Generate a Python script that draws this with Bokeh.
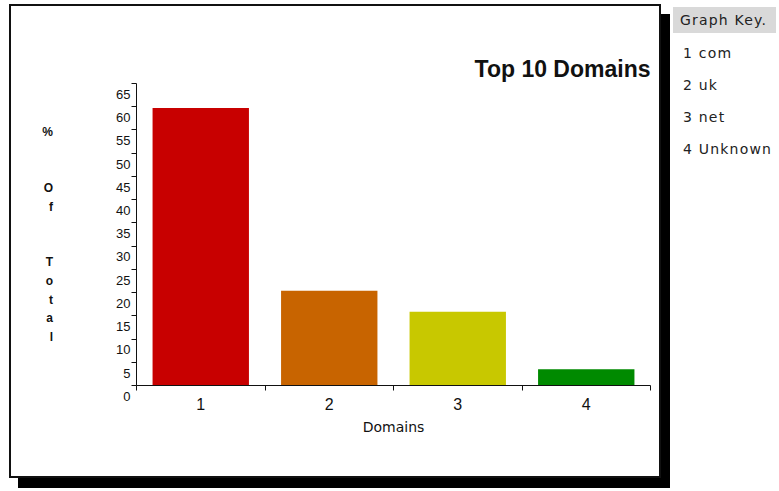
from bokeh.plotting import figure
from bokeh.layouts import row
from bokeh.models import Range1d, FixedTicker, Div, ColumnDataSource
from bokeh.embed import file_html
from bokeh.resources import INLINE

# ---- data ----
domain_idx = [1, 2, 3, 4]
domain_names = ["com", "uk", "net", "Unknown"]
pct_of_total = [59.7, 20.4, 15.9, 3.5]
bar_colors = ["#c80000", "#c86400", "#c8c800", "#008a00"]
y_ticks = [0, 5, 10, 15, 20, 25, 30, 35, 40, 45, 50, 55, 60, 65]
y_tick_labels = [str(t) for t in y_ticks]
title_text = "Top 10 Domains"
x_label = "Domains"
y_label = "% Of Total"
key_title = "Graph Key."

FONT = "Liberation Sans"
WIDE = "DejaVu Sans"

src = ColumnDataSource(dict(idx=domain_idx, pct=pct_of_total, color=bar_colors))

p = figure(width=648, height=470,
           x_range=Range1d(domain_idx[0] - 0.5, domain_idx[-1] + 0.5),
           y_range=Range1d(y_ticks[0], y_ticks[-1]),
           output_backend="svg", toolbar_location=None,
           min_border_left=125, min_border_right=9,
           min_border_top=77, min_border_bottom=91,
           background_fill_color="white", border_fill_color="white",
           title=title_text, margin=(6, 0, 0, 11))
p.styles = {"box-shadow": "0 0 0 2px #111, 9px 10px 0 2px #000"}
p.outline_line_color = None
p.xgrid.visible = False
p.ygrid.visible = False

p.title.align = "right"
p.title.text_font = FONT
p.title.text_font_size = "23px"
p.title.text_font_style = "bold"
p.title.text_color = "#111"
p.title.standoff = 3

p.vbar(x="idx", top="pct", width=0.75, fill_color="color", line_color=None, source=src)

# y axis; tick labels sit a little below their ticks (blank first line)
ya = p.yaxis[0]
ya.ticker = FixedTicker(ticks=y_ticks)
ya.major_label_overrides = {t: "\n" + s for t, s in zip(y_ticks, y_tick_labels)}
ya.major_label_text_line_height = 1.45
ya.major_label_text_font = FONT
ya.major_label_text_font_size = "13px"
ya.major_label_text_color = "#111"
ya.major_tick_out = 5
ya.major_tick_in = 0
ya.minor_tick_line_color = None
ya.major_label_standoff = 1
ya.axis_line_color = "#111"
ya.major_tick_line_color = "#111"

# stacked, upright y-axis title
words = y_label.split(" ")
stacked = "\n\n\n".join("\n".join(w) for w in words)
ya.axis_label = stacked
ya.axis_label_text_font = FONT
ya.axis_label_text_font_size = "12px"
ya.axis_label_text_font_style = "bold"
ya.axis_label_text_line_height = 1.33
ya.axis_label_text_color = "#111"
ya.axis_label_standoff = 60
if "axis_label_orientation" in ya.properties():
    ya.axis_label_orientation = "horizontal"

# x axis: labels at bar centres, ticks between bars
xa = p.xaxis[0]
bounds = [i - 0.5 for i in domain_idx] + [domain_idx[-1] + 0.5]
xa.ticker = FixedTicker(ticks=domain_idx, minor_ticks=bounds)
xa.major_tick_line_color = None
xa.major_tick_out = 0
xa.major_tick_in = 0
xa.minor_tick_out = 5
xa.minor_tick_in = 0
xa.minor_tick_line_color = "#111"
xa.axis_line_color = "#111"
xa.major_label_standoff = 7
xa.major_label_text_font = FONT
xa.major_label_text_font_size = "16px"
xa.major_label_text_color = "#111"
xa.axis_label = x_label
xa.axis_label_text_font = WIDE
xa.axis_label_text_font_size = "14px"
xa.axis_label_text_font_style = "normal"
xa.axis_label_text_color = "#111"
xa.axis_label_standoff = 6

# graph key
items = "".join(
    f'<div style="height:32px;line-height:32px;padding-left:10px;">{i} {n}</div>'
    for i, n in zip(domain_idx, domain_names))
key_html = (f'<div style="width:110px;font-family:\'{WIDE}\',sans-serif;font-size:14px;'
            f'letter-spacing:1.2px;color:#222;">'
            f'<div style="width:103px;background:#d9d9d9;height:26px;line-height:26px;'
            f'padding-left:7px;margin-bottom:4px;">{key_title}</div>{items}</div>')
key = Div(text=key_html, width=110, height=180, margin=(7, 0, 0, 14))

layout = row(p, key)

open("out.html", "w").write(file_html(layout, INLINE))
